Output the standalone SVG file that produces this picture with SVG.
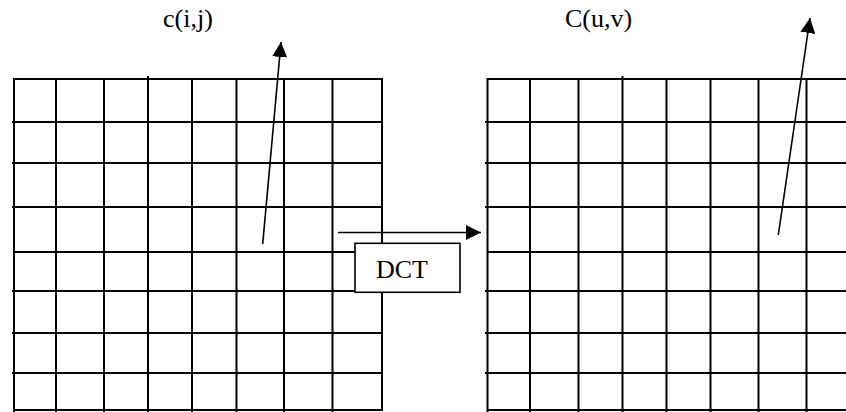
<svg xmlns="http://www.w3.org/2000/svg" width="846" height="412" viewBox="0 0 846 412">
  <style>
    .grid line { stroke: #000; stroke-width: 2; }
    .label { font-family: "Liberation Serif", "Times New Roman", serif; font-size: 26px; fill: #000; }
    .conn { stroke: #000; stroke-width: 1.6; fill: none; marker-end: url(#head); }
    .box { fill: #fff; stroke: #000; stroke-width: 1.6; }
  </style>
  <defs>
    <marker id="head" markerUnits="userSpaceOnUse" markerWidth="16" markerHeight="16" refX="15" refY="7.5" orient="auto">
      <path d="M0,0 L15,7.5 L0,15 Z" fill="#000"/>
    </marker>
  </defs>

  <rect width="846" height="412" fill="#fff"/>

  <!-- spatial block c(i,j): 8x8 sample grid -->
  <g id="pixel-block" class="grid">
    <line x1="14" y1="79" x2="383" y2="79"/>
    <line x1="12" y1="122" x2="383" y2="122"/>
    <line x1="12" y1="163" x2="383" y2="163"/>
    <line x1="12" y1="207" x2="383" y2="207"/>
    <line x1="14" y1="252" x2="383" y2="252"/>
    <line x1="12" y1="291" x2="383" y2="291"/>
    <line x1="12" y1="333" x2="383" y2="333"/>
    <line x1="12" y1="373" x2="383" y2="373"/>
    <line x1="14" y1="410" x2="383" y2="410"/>
    <line x1="14" y1="78" x2="14" y2="412"/>
    <line x1="56" y1="78" x2="56" y2="412"/>
    <line x1="104" y1="78" x2="104" y2="412"/>
    <line x1="148" y1="76" x2="148" y2="412"/>
    <line x1="192" y1="78" x2="192" y2="412"/>
    <line x1="236.5" y1="78" x2="236.5" y2="412"/>
    <line x1="284" y1="78" x2="284" y2="412"/>
    <line x1="332.5" y1="78" x2="332.5" y2="412"/>
    <line x1="382" y1="78" x2="382" y2="411"/>
  </g>
  <g id="pixel-label">
    <text class="label" x="163" y="27">c(i,j)</text>
  </g>

  <!-- coefficient block C(u,v): 8x8 frequency grid -->
  <g id="coef-block" class="grid">
    <line x1="487" y1="79" x2="846" y2="79"/>
    <line x1="485" y1="122" x2="846" y2="122"/>
    <line x1="485" y1="163" x2="846" y2="163"/>
    <line x1="485" y1="207" x2="846" y2="207"/>
    <line x1="487" y1="252" x2="846" y2="252"/>
    <line x1="485" y1="291" x2="846" y2="291"/>
    <line x1="485" y1="333" x2="846" y2="333"/>
    <line x1="485" y1="373" x2="846" y2="373"/>
    <line x1="487" y1="410" x2="846" y2="410"/>
    <line x1="487.5" y1="78" x2="487.5" y2="412"/>
    <line x1="530" y1="78" x2="530" y2="412"/>
    <line x1="578.5" y1="78" x2="578.5" y2="412"/>
    <line x1="622.5" y1="76" x2="622.5" y2="412"/>
    <line x1="666.5" y1="78" x2="666.5" y2="412"/>
    <line x1="710.5" y1="78" x2="710.5" y2="412"/>
    <line x1="758.5" y1="78" x2="758.5" y2="412"/>
    <line x1="806.5" y1="78" x2="806.5" y2="412"/>
  </g>
  <g id="coef-label">
    <text class="label" x="565" y="27">C(u,v)</text>
  </g>

  <!-- scan arrows and transform arrow -->
  <g id="connectors">
    <line class="conn" x1="262.7" y1="244" x2="281" y2="42"/>
    <line class="conn" x1="778.3" y1="235" x2="810" y2="18"/>
    <line class="conn" x1="338" y1="232.5" x2="481" y2="232.5"/>
  </g>

  <!-- transform label box -->
  <g id="dct">
    <rect class="box" x="355" y="243.3" width="105" height="49"/>
    <text class="label" x="402" y="278.3" text-anchor="middle">DCT</text>
  </g>
</svg>
